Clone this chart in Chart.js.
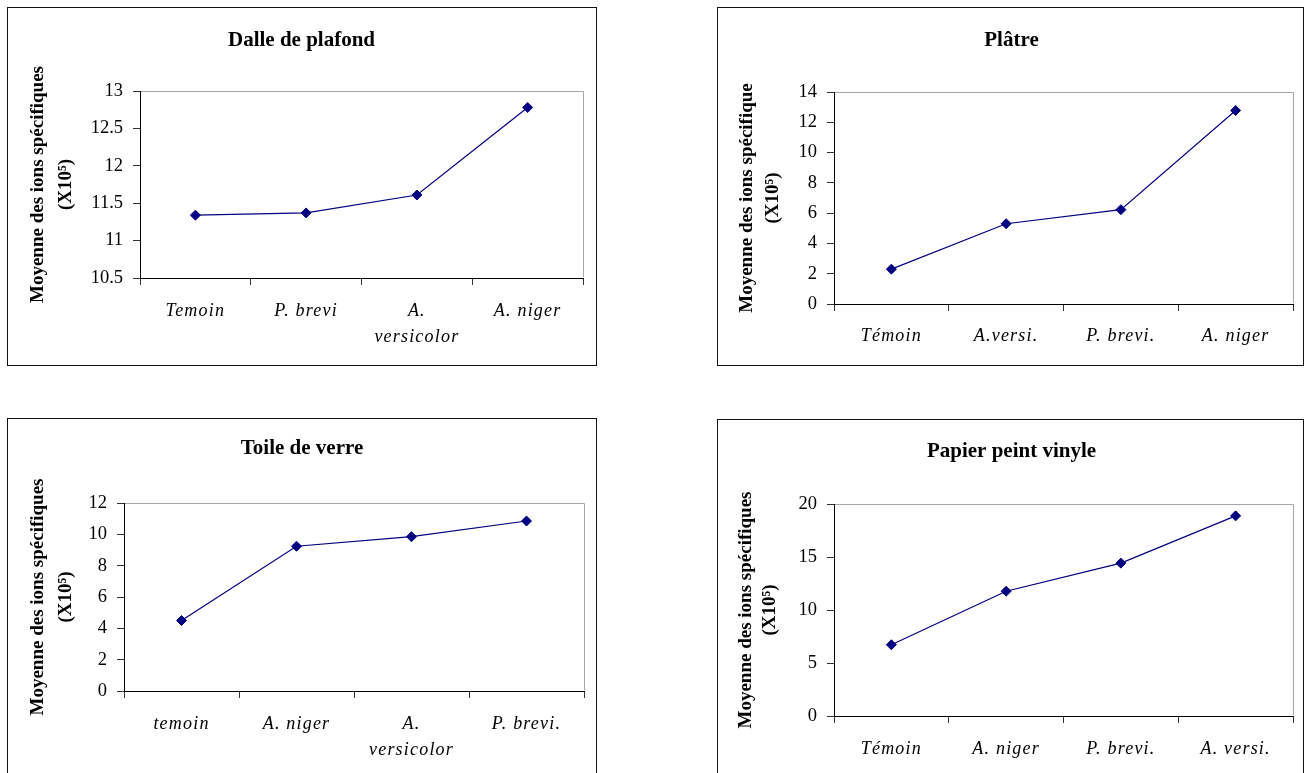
<!DOCTYPE html>
<html>
<head>
<meta charset="utf-8">
<script src="https://cdn.jsdelivr.net/npm/chart.js@4.4.1/dist/chart.umd.min.js"></script>
<style>
  html, body { margin: 0; padding: 0; background: #fff; overflow: hidden; width: 1304px; height: 773px; }
  .box { position: absolute; border: 1px solid #111; box-sizing: border-box; background: #fff; }
  .box canvas { position: absolute; left: 0; top: 0; }
</style>
</head>
<body>
<div class="box" id="b1" style="left:7px;top:7px;width:590px;height:359px;"><canvas id="c1" width="588" height="357"></canvas></div>
<div class="box" id="b2" style="left:717px;top:7px;width:587px;height:359px;"><canvas id="c2" width="585" height="357"></canvas></div>
<div class="box" id="b3" style="left:7px;top:418px;width:590px;height:370px;"><canvas id="c3" width="588" height="368"></canvas></div>
<div class="box" id="b4" style="left:717px;top:419px;width:587px;height:370px;"><canvas id="c4" width="585" height="368"></canvas></div>
<script>
// ---- Data ----
const dalleTitle = 'Dalle de plafond';
const dalleLabels = ['Temoin', 'P. brevi', ['A.', 'versicolor'], 'A. niger'];
const dalleValues = [11.34, 11.37, 11.61, 12.78];
const dalleTicks = [10.5, 11, 11.5, 12, 12.5, 13];

const platreTitle = 'Plâtre';
const platreLabels = ['Témoin', 'A.versi.', 'P. brevi.', 'A. niger'];
const platreValues = [2.3, 5.3, 6.23, 12.78];
const platreTicks = [0, 2, 4, 6, 8, 10, 12, 14];

const toileTitle = 'Toile de verre';
const toileLabels = ['temoin', 'A. niger', ['A.', 'versicolor'], 'P. brevi.'];
const toileValues = [4.5, 9.24, 9.85, 10.85];
const toileTicks = [0, 2, 4, 6, 8, 10, 12];

const papierTitle = 'Papier peint vinyle';
const papierLabels = ['Témoin', 'A. niger', 'P. brevi.', 'A. versi.'];
const papierValues = [6.72, 11.77, 14.42, 18.88];
const papierTicks = [0, 5, 10, 15, 20];

const yTitleMain = 'Moyenne des ions spécifiques';
const yTitleMainPlatre = 'Moyenne des ions spécifique';
const yTitleUnit = '(X10⁵)';

// ---- Rendering ----
const SERIF = '"Liberation Serif", "Times New Roman", Times, serif';
const NAVY = '#000080';

const plotFrame = {
  id: 'plotFrame',
  afterDraw(chart) {
    const a = chart.chartArea, ctx = chart.ctx;
    ctx.save();
    ctx.strokeStyle = '#a6a6a6';
    ctx.lineWidth = 1;
    ctx.beginPath();
    ctx.moveTo(Math.round(a.left) + 1, Math.round(a.top) + 0.5);
    ctx.lineTo(Math.round(a.right) + 0.5, Math.round(a.top) + 0.5);
    ctx.lineTo(Math.round(a.right) + 0.5, Math.round(a.bottom) - 1);
    ctx.stroke();
    ctx.restore();
  }
};

function spacedLabels(spacing) {
  return function (scale) {
    if (scale._spacedPatched) return;
    const orig = scale.drawLabels.bind(scale);
    scale.drawLabels = function (area) {
      const c = this.ctx;
      c.save();
      c.letterSpacing = spacing;
      orig(area);
      c.restore();
    };
    scale._spacedPatched = true;
  };
}

function makeChart(id, title, labels, values, ticks, yTitle, L) {
  new Chart(document.getElementById(id), {
    type: 'line',
    data: {
      labels: labels,
      datasets: [{
        data: values,
        borderColor: NAVY,
        backgroundColor: NAVY,
        borderWidth: 1.2,
        pointStyle: 'rectRot',
        pointRadius: 5,
        pointBorderWidth: 1,
        pointBackgroundColor: NAVY,
        pointBorderColor: NAVY,
        tension: 0,
        fill: false
      }]
    },
    options: {
      responsive: false,
      animation: false,
      devicePixelRatio: 1,
      layout: { padding: { left: L.padLeft, right: L.padRight, top: 0, bottom: 0 } },
      plugins: {
        legend: { display: false },
        tooltip: { enabled: false },
        title: {
          display: true,
          text: title,
          color: '#000',
          font: { family: SERIF, size: 21, weight: 'bold', lineHeight: 1.2 },
          padding: { top: L.titleTop, bottom: L.titleBottom }
        }
      },
      scales: {
        x: {
          type: 'category',
          offset: true,
          grid: { display: true, offset: true, drawOnChartArea: false, drawTicks: true, tickLength: 7, color: '#333', lineWidth: 1 },
          border: { display: true, color: '#000', width: 1 },
          ticks: {
            color: '#000',
            padding: L.xPad,
            maxRotation: 0,
            autoSkip: false,
            font: { family: SERIF, size: 18, style: 'italic', lineHeight: '26px' }
          },
          afterUpdate: spacedLabels('1.2px'),
          afterFit(scale) { scale.height = L.xHeight; }
        },
        y: {
          min: ticks[0],
          max: ticks[ticks.length - 1],
          afterBuildTicks(scale) { scale.ticks = ticks.map(v => ({ value: v })); },
          grid: { display: true, drawOnChartArea: false, drawTicks: true, tickLength: 7, color: '#333', lineWidth: 1 },
          border: { display: true, color: '#000', width: 1 },
          ticks: {
            color: '#000',
            padding: 10,
            font: { family: SERIF, size: 18.5 },
            callback: (v) => String(v)
          },
          title: {
            display: true,
            text: yTitle,
            color: '#000',
            font: { family: SERIF, size: 19, weight: 'bold', lineHeight: L.yTitleLH },
            padding: { top: L.yTitleTop, bottom: 0 }
          },
          afterFit(scale) { scale.width = L.yWidth; }
        }
      }
    },
    plugins: [plotFrame]
  });
}

makeChart('c1', dalleTitle, dalleLabels, dalleValues, dalleTicks, [yTitleMain, yTitleUnit],
  { padLeft: 12, padRight: 13, titleTop: 20.4, titleBottom: 37.4, yWidth: 120, yTitleLH: '28px', yTitleTop: 4, xHeight: 87, xPad: 13.5 });
makeChart('c2', platreTitle, platreLabels, platreValues, platreTicks, [yTitleMainPlatre, yTitleUnit],
  { padLeft: 12, padRight: 10, titleTop: 20.4, titleBottom: 38.4, yWidth: 104, yTitleLH: '26px', yTitleTop: 4, xHeight: 61, xPad: 12 });
makeChart('c3', toileTitle, toileLabels, toileValues, toileTicks, [yTitleMain, yTitleUnit],
  { padLeft: 12, padRight: 12, titleTop: 16.7, titleBottom: 42.1, yWidth: 104, yTitleLH: '28px', yTitleTop: 4, xHeight: 96, xPad: 13.5 });
makeChart('c4', papierTitle, papierLabels, papierValues, papierTicks, [yTitleMain, yTitleUnit],
  { padLeft: 12, padRight: 10, titleTop: 18.7, titleBottom: 40.1, yWidth: 104, yTitleLH: '24px', yTitleTop: 4, xHeight: 72, xPad: 13 });
</script>
</body>
</html>
